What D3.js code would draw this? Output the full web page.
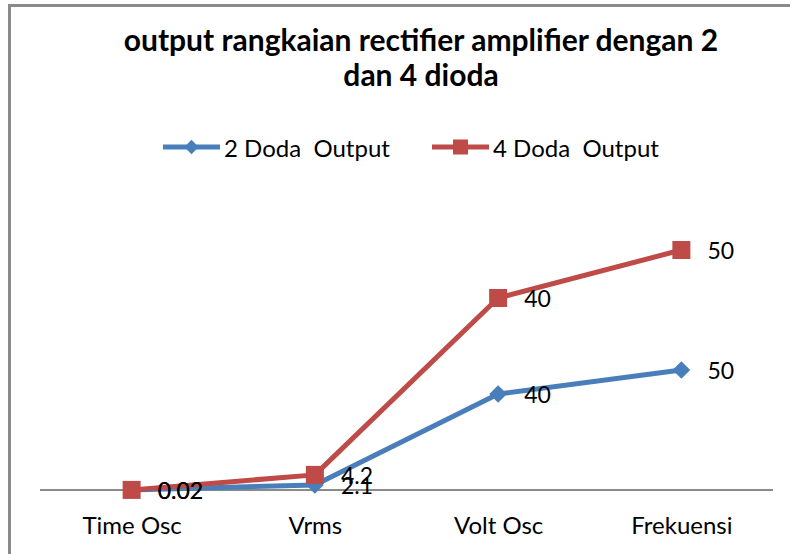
<!DOCTYPE html>
<html>
<head>
<meta charset="utf-8">
<script src="https://cdn.jsdelivr.net/npm/d3@7"></script>
<style>
  html, body { margin: 0; padding: 0; background: #fff; overflow: hidden; }
  svg { display: block; font-family: Lato, "Open Sans", sans-serif; }
  text { white-space: pre; }
</style>
</head>
<body>
<svg id="chart" width="790" height="554"></svg>
<script>
// Categories along the x axis
const categories = ["Time Osc", "Vrms", "Volt Osc", "Frekuensi"];
// Series values (stacked line chart: second series sits on top of the first)
const seriesNames = ["2 Doda  Output", "4 Doda  Output"];
const dodaTwo = [0.02, 2.1, 40, 50];
const dodaFour = [0.02, 4.2, 40, 50];
const labelsTwo = ["0.02", "2.1", "40", "50"];
const labelsFour = ["0.02", "4.2", "40", "50"];
const yDomain = [0, 120];
const titleLines = ["output rangkaian rectifier amplifier dengan 2", "dan 4 dioda"];

const colors = ["#4A7EBB", "#BE4B48"];

const svg = d3.select("#chart");

// chart area frame (right and bottom edges fall outside the view)
svg.append("rect")
  .attr("x", 9.5).attr("y", 5.5)
  .attr("width", 820).attr("height", 600)
  .attr("fill", "#fff")
  .attr("stroke", "#8a8a8a")
  .attr("stroke-width", 3);

// title
const title = svg.append("text")
  .attr("text-anchor", "middle")
  .attr("font-weight", "bold")
  .attr("font-size", 30)
  .attr("fill", "#000");
titleLines.forEach((t, i) => {
  title.append("tspan").attr("x", 421).attr("y", 51 + i * 35).text(t);
});

const x = d3.scalePoint().domain(categories).range([40, 773]).padding(0.5);
const y = d3.scaleLinear().domain(yDomain).range([490, 202]);

// stack the two series
const stacked = categories.map((c, i) => ({
  cat: c,
  a: dodaTwo[i],
  b: dodaTwo[i] + dodaFour[i]
}));

// category axis
const xAxis = d3.axisBottom(x).tickSize(0).tickPadding(0);
const gx = svg.append("g").attr("transform", `translate(0,${y(0)})`).call(xAxis);
gx.select(".domain").attr("stroke", "#8a8a8a").attr("stroke-width", 2)
  .attr("d", `M40,0H773`);
gx.selectAll(".tick text")
  .attr("font-family", "Lato, 'Open Sans', sans-serif")
  .attr("font-size", 24)
  .attr("fill", "#000")
  .attr("dy", null)
  .attr("y", 34)
  .attr("dominant-baseline", "central");

const line = key => d3.line().x(d => x(d.cat)).y(d => y(d[key]));

// blue series
svg.append("path").datum(stacked)
  .attr("d", line("a"))
  .attr("fill", "none").attr("stroke", colors[0])
  .attr("stroke-width", 5).attr("stroke-linejoin", "round");
const diamond = d3.symbol().type(d3.symbolDiamond2).size(200);
svg.selectAll(".m2").data(stacked).join("path")
  .attr("transform", d => `translate(${x(d.cat)},${y(d.a)})`)
  .attr("d", diamond).attr("fill", colors[0]);

// red series
svg.append("path").datum(stacked)
  .attr("d", line("b"))
  .attr("fill", "none").attr("stroke", colors[1])
  .attr("stroke-width", 5).attr("stroke-linejoin", "round");
svg.selectAll(".m4").data(stacked).join("rect")
  .attr("x", d => x(d.cat) - 9).attr("y", d => y(d.b) - 9)
  .attr("width", 18).attr("height", 18).attr("fill", colors[1]);

// data labels, to the right of each point
const labelGroup = svg.append("g")
  .attr("font-size", 23).attr("fill", "#000");
stacked.forEach((d, i) => {
  labelGroup.append("text")
    .attr("x", x(d.cat) + 26).attr("y", y(d.a))
    .attr("dominant-baseline", "central")
    .text(labelsTwo[i]);
  labelGroup.append("text")
    .attr("x", x(d.cat) + 26).attr("y", y(d.b))
    .attr("dominant-baseline", "central")
    .text(labelsFour[i]);
});

// legend
const legend = [
  { name: seriesNames[0], color: colors[0], x0: 163, marker: "diamond" },
  { name: seriesNames[1], color: colors[1], x0: 432, marker: "square" }
];
const ly = 147;
legend.forEach(l => {
  svg.append("line")
    .attr("x1", l.x0).attr("x2", l.x0 + 57)
    .attr("y1", ly).attr("y2", ly)
    .attr("stroke", l.color).attr("stroke-width", 5);
  const cx = l.x0 + 28.5;
  if (l.marker === "diamond") {
    svg.append("path").attr("transform", `translate(${cx},${ly})`)
      .attr("d", d3.symbol().type(d3.symbolDiamond2).size(130)).attr("fill", l.color);
  } else {
    svg.append("rect").attr("x", cx - 7.5).attr("y", ly - 7.5)
      .attr("width", 15).attr("height", 15).attr("fill", l.color);
  }
  svg.append("text")
    .attr("x", l.x0 + 61).attr("y", ly)
    .attr("dominant-baseline", "central")
    .attr("font-size", 24).attr("fill", "#000")
    .text(l.name);
});
</script>
</body>
</html>
